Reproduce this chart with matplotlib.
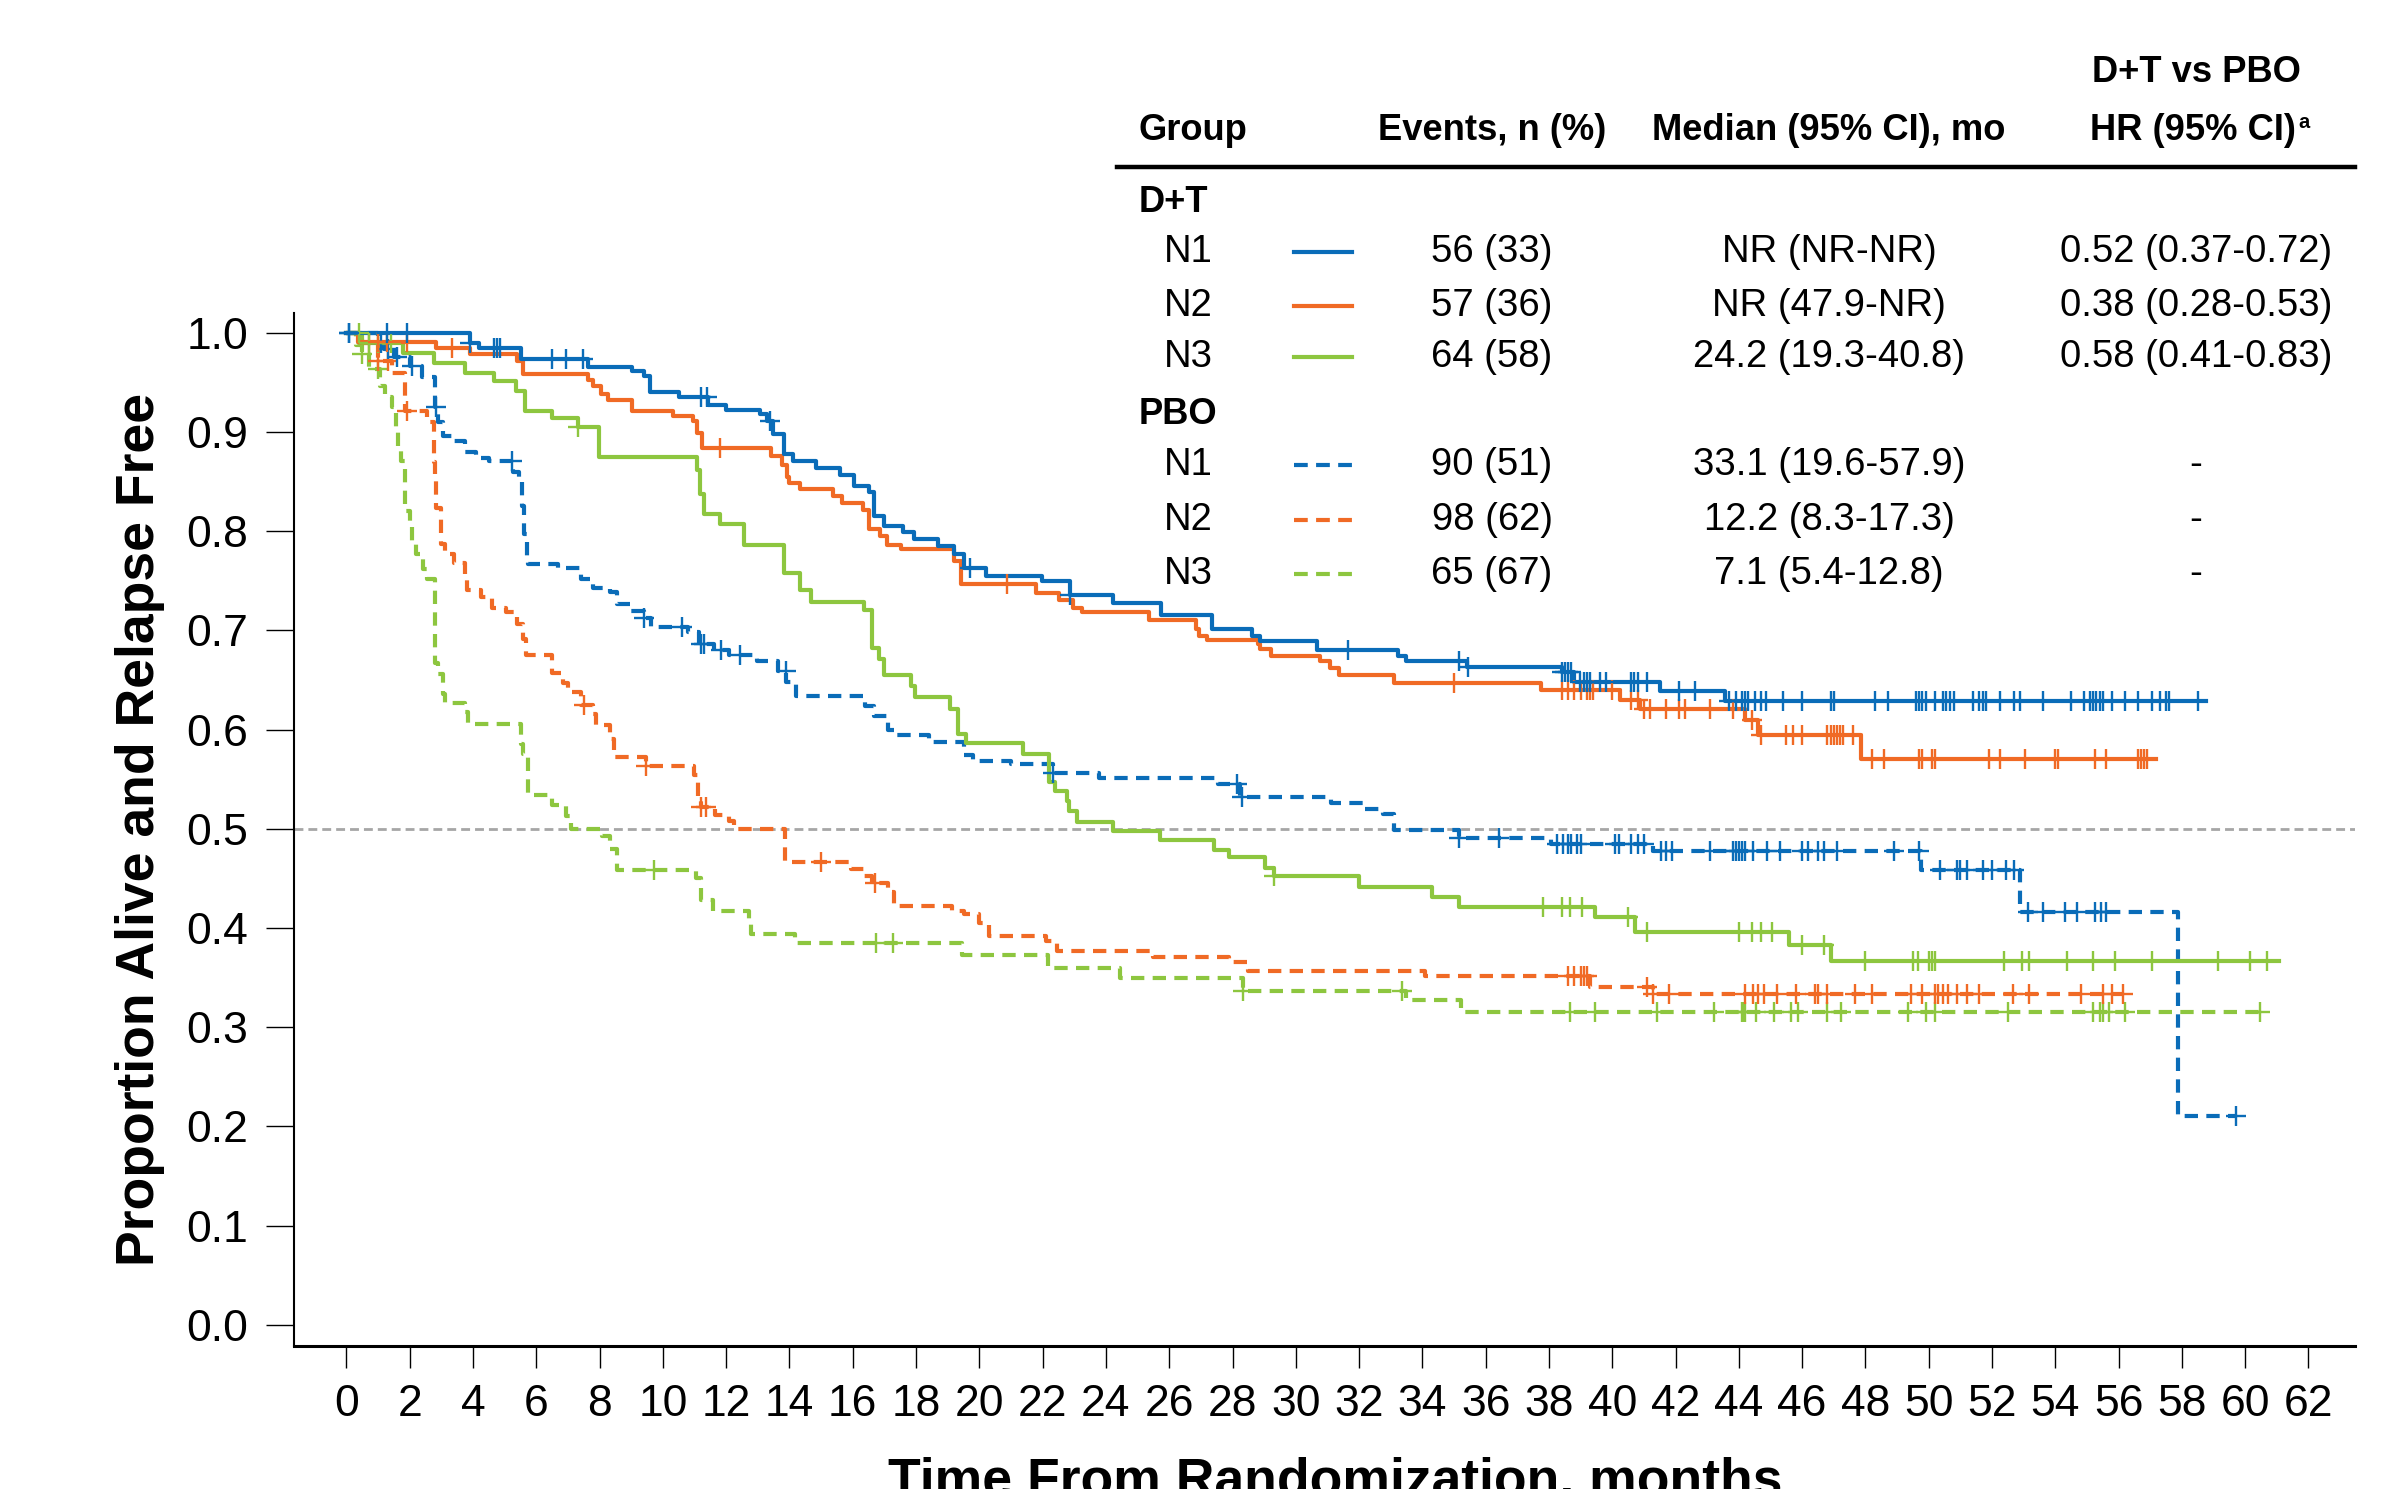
import matplotlib
matplotlib.use("Agg")
import matplotlib.pyplot as plt
from matplotlib import font_manager
from matplotlib.lines import Line2D
import numpy as np

W, H = 2382, 1489

# ---- survival curves (step times, survival after step) ----
dt_n1_t = [0, 3.9, 4.18, 5.52, 7.63, 9.04, 9.40, 9.58, 10.52, 11.44, 12.0, 13.07, 13.28,
           13.49, 13.84, 14.12, 14.83, 15.6, 16.03, 16.52, 16.66, 17.0, 17.58, 17.93, 18.7,
           19.2, 19.5, 20.2, 21.98, 22.86, 24.22, 25.73, 27.36, 28.63, 28.87, 30.68, 33.22,
           33.49, 35.4, 38.4, 38.8, 41.5, 43.55]
dt_n1_s = [1.0, 0.99, 0.985, 0.974, 0.965, 0.961, 0.956, 0.940, 0.935, 0.927, 0.922, 0.918,
           0.911, 0.898, 0.878, 0.871, 0.864, 0.857, 0.846, 0.839, 0.815, 0.805, 0.799, 0.792,
           0.785, 0.777, 0.763, 0.755, 0.7495, 0.736, 0.728, 0.715, 0.701, 0.694, 0.689, 0.680,
           0.674, 0.669, 0.663, 0.658, 0.648, 0.639, 0.629]
dt_n1_end = 58.77
dt_n1_cens = [0.09, 1.29, 1.92, 3.9, 4.67, 4.75, 4.85, 6.5, 6.93, 7.49, 11.2, 11.4, 13.4, 19.7,
              22.86, 31.65, 35.16, 35.43, 38.4, 38.5, 38.6, 38.7, 38.97, 39.1, 39.2, 39.3, 39.6,
              39.8, 40.6, 40.7, 40.8, 41.1, 42.1, 42.6, 43.7, 43.9, 44.1, 44.2, 44.3, 44.5, 44.7,
              44.87, 45.4, 46.0, 46.9, 47.0, 48.3, 48.7, 49.6, 49.7, 49.8, 49.9, 50.2, 50.45,
              50.55, 50.66, 50.8, 51.4, 51.6, 51.7, 51.8, 52.24, 52.7, 52.87, 53.6, 54.5, 54.9,
              55.1, 55.2, 55.3, 55.4, 55.5, 55.8, 56.2, 56.6, 57.06, 57.3, 57.5, 57.6, 58.5]

dt_n2_t = [0, 0.37, 2.84, 3.9, 5.38, 5.59, 7.64, 7.78, 8.06, 8.27, 9.04, 10.31, 10.95, 11.09,
           11.23, 13.42, 13.77, 13.91, 13.98, 14.33, 15.39, 15.67, 16.31, 16.52, 16.87, 17.08,
           17.51, 19.2, 19.41, 21.8, 22.52, 22.95, 23.25, 25.37, 26.84, 26.94, 27.18, 28.81,
           28.87, 29.23, 30.75, 31.07, 31.35, 33.1, 37.76, 40.24, 40.87, 44.18, 44.6, 47.87]
dt_n2_s = [1.0, 0.991, 0.985, 0.979, 0.972, 0.958, 0.952, 0.946, 0.938, 0.932, 0.921, 0.916,
           0.911, 0.899, 0.884, 0.876, 0.867, 0.855, 0.849, 0.842, 0.835, 0.828, 0.821, 0.802,
           0.795, 0.786, 0.782, 0.770, 0.747, 0.738, 0.731, 0.723, 0.719, 0.710, 0.701, 0.694,
           0.690, 0.686, 0.681, 0.674, 0.669, 0.662, 0.655, 0.647, 0.640, 0.630, 0.621, 0.6095,
           0.595, 0.570]
dt_n2_end = 57.17
dt_n2_cens = [1.0, 1.29, 1.92, 3.34, 11.8, 20.87, 35.0, 38.4, 38.6, 38.8, 39.0, 39.2, 39.3,
              39.4, 40.0, 40.6, 40.8, 41.0, 41.2, 41.7, 42.1, 42.3, 43.1, 43.8, 44.4, 44.7, 45.5,
              45.7, 46.0, 46.8, 46.9, 47.0, 47.1, 47.2, 47.3, 47.6, 48.2, 48.6, 49.7, 49.8, 50.1,
              50.2, 51.9, 52.24, 53.03, 54.0, 54.1, 55.25, 55.6, 56.6, 56.7, 56.8, 56.9]

dt_n3_t = [0, 0.5, 1.8, 2.77, 3.75, 4.67, 5.35, 5.63, 6.51, 7.33, 7.99, 11.09, 11.16, 11.3,
           11.8, 12.57, 13.84, 14.33, 14.69, 16.36, 16.6, 16.84, 17.0, 17.85, 17.97, 19.08,
           19.32, 19.59, 21.38, 22.2, 22.4, 22.77, 22.83, 23.1, 24.22, 25.7, 27.42, 27.9, 29.02,
           29.3, 32.0, 34.31, 35.16, 39.45, 40.71, 45.6, 46.92]
dt_n3_s = [1.0, 0.99, 0.98, 0.97, 0.959, 0.951, 0.941, 0.921, 0.914, 0.905, 0.875, 0.862,
           0.837, 0.817, 0.807, 0.786, 0.758, 0.741, 0.729, 0.721, 0.682, 0.671, 0.655, 0.644,
           0.633, 0.621, 0.596, 0.586, 0.575, 0.547, 0.538, 0.528, 0.518, 0.507, 0.498, 0.489,
           0.479, 0.472, 0.460, 0.452, 0.441, 0.431, 0.421, 0.411, 0.396, 0.383, 0.367]
dt_n3_end = 61.07
dt_n3_cens = [0.4, 0.7, 1.0, 1.4, 7.33, 29.3, 37.8, 38.4, 38.66, 39.05, 40.5, 41.1, 44.0, 44.4,
              44.7, 45.05, 46.0, 46.7, 48.0, 49.5, 49.66, 50.0, 50.1, 50.2, 52.37, 52.96, 53.17,
              54.38, 55.19, 55.9, 57.07, 59.14, 60.16, 60.69]

pbo_n1_t = [0, 1.0, 1.2, 1.5, 2.0, 2.4, 2.8, 2.9, 3.05, 3.4, 3.75, 4.1, 4.5, 5.25, 5.45, 5.55,
            5.62, 5.7, 5.75, 6.7, 7.42, 7.78, 8.34, 8.55, 8.97, 9.4, 9.61, 10.8, 11.15, 11.6,
            12.08, 12.99, 13.64, 13.9, 14.2, 16.4, 16.67, 17.1, 17.35, 18.4, 19.5, 19.8, 21.0,
            22.34, 23.79, 27.54, 28.24, 31.1, 32.17, 32.74, 33.1, 35.16, 38.06, 41.3, 49.77,
            52.87, 57.88]
pbo_n1_s = [1.0, 0.99, 0.984, 0.976, 0.966, 0.955, 0.925, 0.91, 0.896, 0.891, 0.88, 0.874,
            0.871, 0.86, 0.85, 0.825, 0.797, 0.77, 0.767, 0.763, 0.752, 0.743, 0.739, 0.727,
            0.72, 0.712, 0.703, 0.698, 0.686, 0.68, 0.675, 0.669, 0.659, 0.648, 0.634, 0.624,
            0.614, 0.60, 0.595, 0.587, 0.574, 0.568, 0.565, 0.556, 0.551, 0.545, 0.532, 0.526,
            0.520, 0.515, 0.499, 0.491, 0.485, 0.478, 0.458, 0.416, 0.21]
pbo_n1_end = 59.7
pbo_n1_cens = [0.09, 1.1, 1.3, 1.6, 2.06, 2.84, 5.24, 9.41, 10.62, 11.2, 11.3, 11.83, 12.43,
               13.88, 22.34, 28.15, 28.3, 35.16, 36.43, 38.24, 38.45, 38.6, 38.7, 38.9, 39.0,
               40.1, 40.2, 40.6, 40.8, 41.0, 41.55, 41.7, 41.9, 43.1, 43.8, 43.9, 44.0, 44.1,
               44.2, 44.45, 44.9, 45.3, 46.0, 46.2, 46.5, 46.7, 47.1, 48.9, 49.7, 50.35, 50.9,
               51.0, 51.2, 51.7, 52.0, 52.45, 52.7, 53.14, 53.6, 54.3, 54.7, 55.25, 55.45, 55.6,
               59.7]

pbo_n2_t = [0, 0.5, 1.0, 1.43, 1.86, 2.56, 2.77, 2.8, 2.84, 2.98, 3.12, 3.41, 3.76, 3.8, 4.25,
            4.6, 5.03, 5.38, 5.59, 5.66, 6.51, 6.85, 7.0, 7.4, 7.8, 7.9, 8.32, 8.44, 9.47,
            10.98, 11.1, 11.2, 11.65, 12.1, 12.25, 13.86, 15.94, 16.36, 16.6, 17.1, 17.3, 19.14,
            19.5, 20.0, 20.3, 22.1, 22.46, 25.49, 27.9, 28.5, 34.07, 39.29, 41.29]
pbo_n2_s = [1.0, 0.99, 0.972, 0.959, 0.921, 0.91, 0.87, 0.855, 0.823, 0.787, 0.777, 0.768,
            0.755, 0.741, 0.734, 0.723, 0.718, 0.706, 0.691, 0.675, 0.657, 0.647, 0.638, 0.625,
            0.616, 0.605, 0.59, 0.572, 0.563, 0.554, 0.53, 0.522, 0.514, 0.508, 0.500, 0.466,
            0.459, 0.452, 0.445, 0.436, 0.422, 0.417, 0.414, 0.405, 0.392, 0.387, 0.377, 0.371,
            0.3655, 0.3566, 0.3512, 0.340, 0.333]
pbo_n2_end = 56.14
pbo_n2_cens = [0.7, 1.0, 1.3, 1.93, 7.5, 9.47, 11.2, 11.35, 15.0, 16.7, 38.6, 38.8, 39.0, 39.1,
               39.2, 41.1, 41.3, 41.8, 44.2, 44.45, 44.6, 44.8, 45.2, 45.8, 46.4, 46.5, 46.8,
               47.66, 48.2, 49.45, 49.8, 50.2, 50.3, 50.45, 50.6, 50.9, 51.2, 51.6, 52.66, 53.17,
               54.82, 55.5, 55.8, 56.14]

pbo_n3_t = [0, 0.3, 0.5, 0.72, 1.07, 1.22, 1.43, 1.57, 1.64, 1.71, 1.86, 2.0, 2.07, 2.2, 2.42,
            2.56, 2.81, 2.91, 3.05, 3.12, 3.76, 3.83, 5.52, 5.59, 5.73, 6.51, 6.93, 7.11, 8.08,
            8.32, 8.56, 11.04, 11.22, 11.58, 12.73, 12.8, 14.18, 19.44, 22.16, 24.46, 28.33,
            33.47, 35.22]
pbo_n3_s = [1.0, 0.988, 0.979, 0.963, 0.946, 0.935, 0.925, 0.9, 0.885, 0.871, 0.82, 0.806,
            0.79, 0.777, 0.762, 0.752, 0.667, 0.656, 0.636, 0.627, 0.618, 0.606, 0.585, 0.575,
            0.534, 0.524, 0.513, 0.500, 0.493, 0.48, 0.4585, 0.45, 0.428, 0.4173, 0.4065, 0.394,
            0.3853, 0.3725, 0.360, 0.3494, 0.3365, 0.327, 0.3153]
pbo_n3_end = 60.7
pbo_n3_cens = [0.5, 1.0, 9.71, 16.72, 17.27, 28.33, 33.37, 38.66, 39.45, 41.4, 43.2, 44.1, 44.15,
               44.2, 44.55, 45.1, 45.66, 45.87, 46.77, 47.24, 49.35, 49.9, 50.2, 52.5, 55.2,
               55.4, 55.5, 55.7, 56.19, 60.46]

# ---- table text ----
row_labels = ["N1", "N2", "N3"]
dt_events = ["56 (33)", "57 (36)", "64 (58)"]
dt_median = ["NR (NR-NR)", "NR (47.9-NR)", "24.2 (19.3-40.8)"]
dt_hr = ["0.52 (0.37-0.72)", "0.38 (0.28-0.53)", "0.58 (0.41-0.83)"]
pbo_events = ["90 (51)", "98 (62)", "65 (67)"]
pbo_median = ["33.1 (19.6-57.9)", "12.2 (8.3-17.3)", "7.1 (5.4-12.8)"]
pbo_hr = ["-", "-", "-"]

colors = ["#0a6cb8", "#f06a25", "#8dc63f"]
x_ticks = np.arange(0, 63, 2)
y_ticks = np.arange(0, 1.01, 0.1)

plt.rcParams["font.family"] = ["Liberation Sans", "DejaVu Sans"]
names = {f.name for f in font_manager.fontManager.ttflist}
if "Liberation Sans Narrow" in names:
    narrow, nscale = ["Liberation Sans Narrow", "Liberation Sans"], 1.0
else:
    narrow, nscale = ["Liberation Sans", "DejaVu Sans"], 0.86


def fx(px):
    return px / W


def fy(py):
    return 1 - py / H


def surv_at(times, surv, t):
    i = np.searchsorted(times, t, side="right") - 1
    return np.asarray(surv)[i]


fig = plt.figure(figsize=(W / 100, H / 100), dpi=100)
ax = fig.add_axes([fx(294), fy(1346), fx(2355) - fx(294), fy(313) - fy(1346)])

ax.axhline(0.5, color="#a6a6a6", lw=2.0, dashes=(3.2, 1.8), zorder=1)

curves = [
    (pbo_n3_t, pbo_n3_s, pbo_n3_end, pbo_n3_cens, colors[2], True),
    (pbo_n2_t, pbo_n2_s, pbo_n2_end, pbo_n2_cens, colors[1], True),
    (pbo_n1_t, pbo_n1_s, pbo_n1_end, pbo_n1_cens, colors[0], True),
    (dt_n3_t, dt_n3_s, dt_n3_end, dt_n3_cens, colors[2], False),
    (dt_n2_t, dt_n2_s, dt_n2_end, dt_n2_cens, colors[1], False),
    (dt_n1_t, dt_n1_s, dt_n1_end, dt_n1_cens, colors[0], False),
]
lw = 3.0
for t, s, end, cens, col, dashed in curves:
    tt = list(t) + [end]
    ss = list(s) + [s[-1]]
    line, = ax.step(tt, ss, where="post", color=col, lw=lw, zorder=2)
    if dashed:
        line.set_dashes((3.2, 2.0))
    cy = [surv_at(t, s, c) for c in cens]
    ax.plot(cens, cy, ls="none", marker="+", ms=15, mew=1.7, color=col, zorder=3)

ax.set_xlim(-1.656, 63.47)
ax.set_ylim(-0.0214, 1.0199)
ax.set_xticks(x_ticks)
ax.set_yticks(y_ticks)
ax.set_yticklabels([f"{v:.1f}" for v in y_ticks])
ax.tick_params(axis="y", length=20, width=1.0, pad=13, labelsize=32)
ax.tick_params(axis="x", length=16, width=1.0, pad=11, labelsize=32)
for side in ["top", "right"]:
    ax.spines[side].set_visible(False)
ax.spines["left"].set_linewidth(1.5)
ax.spines["bottom"].set_linewidth(2.2)

fig.text(fx(140), fy(829), "Proportion Alive and Relapse Free", rotation=90,
         ha="center", va="center", fontsize=38.5, fontweight="bold")
fig.text(fx(1335), fy(1457), "Time From Randomization, months",
         ha="center", va="top", fontsize=38.5, fontweight="bold")

# ---- table in the upper right ----
hs = 30.5 * nscale
rs = 32 * nscale
fig.text(fx(2196), fy(73), "D+T vs PBO", ha="center", va="center", fontsize=hs,
         fontweight="bold", family=narrow)
fig.text(fx(1139), fy(130), "Group", ha="left", va="center", fontsize=hs,
         fontweight="bold", family=narrow)
fig.text(fx(1492), fy(130), "Events, n (%)", ha="center", va="center", fontsize=hs,
         fontweight="bold", family=narrow)
fig.text(fx(1829), fy(130), "Median (95% CI), mo", ha="center", va="center", fontsize=hs,
         fontweight="bold", family=narrow)
fig.text(fx(2296), fy(130), "HR (95% CI)", ha="right", va="center", fontsize=hs,
         fontweight="bold", family=narrow)
fig.text(fx(2298), fy(123), "a", ha="left", va="center", fontsize=hs * 0.55,
         fontweight="bold", family=narrow)
fig.add_artist(Line2D([fx(1117), fx(2355)], [fy(167), fy(167)], color="black", lw=3.2,
                      transform=fig.transFigure))

sections = [
    ("D+T", 202, [252, 306, 357], dt_events, dt_median, dt_hr, False),
    ("PBO", 415, [465, 520, 574], pbo_events, pbo_median, pbo_hr, True),
]
for name, sy, rows, ev, med, hr, dashed in sections:
    fig.text(fx(1139), fy(sy), name, ha="left", va="center", fontsize=hs,
             fontweight="bold", family=narrow)
    for i, ry in enumerate(rows):
        fig.text(fx(1188), fy(ry), row_labels[i], ha="center", va="center", fontsize=rs,
                 family=narrow)
        sample = Line2D([fx(1294), fx(1352)], [fy(ry), fy(ry)], color=colors[i], lw=lw,
                        transform=fig.transFigure)
        if dashed:
            sample.set_dashes((3.3, 2.0))
        fig.add_artist(sample)
        fig.text(fx(1492), fy(ry), ev[i], ha="center", va="center", fontsize=rs, family=narrow)
        fig.text(fx(1829), fy(ry), med[i], ha="center", va="center", fontsize=rs, family=narrow)
        fig.text(fx(2196), fy(ry), hr[i], ha="center", va="center", fontsize=rs, family=narrow)

fig.savefig("out.png", dpi=100)
